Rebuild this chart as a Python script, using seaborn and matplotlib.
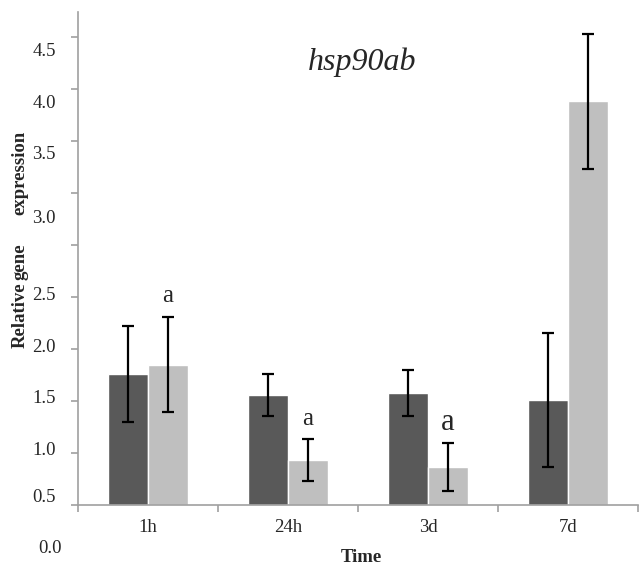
import matplotlib
matplotlib.use("Agg")
import matplotlib.pyplot as plt
import seaborn as sns
import pandas as pd

# ---- data ----
times = ["1h", "24h", "3d", "7d"]
groups = ["control", "treated"]
control_mean = [1.26, 1.06, 1.08, 1.01]
control_err = [0.46, 0.20, 0.22, 0.64]
treated_mean = [1.35, 0.43, 0.365, 3.88]
treated_err = [0.46, 0.20, 0.23, 0.65]
sig_letters = ["a", "a", "a", ""]

# tick labels as printed in the figure (labels sit offset from tick marks)
ytick_labels = ["4.5", "4.0", "3.5", "3.0", "2.5", "2.0", "1.5", "1.0", "0.5", "0.0"]
ytick_label_pos = [4.375, 3.875, 3.385, 2.77, 2.03, 1.53, 1.04, 0.54, 0.09, -0.42]
ytick_marks = [0, 0.5, 1.0, 1.5, 2.0, 2.5, 3.0, 3.5, 4.0, 4.5]

df = pd.DataFrame({
    "time": times * 2,
    "group": [groups[0]] * 4 + [groups[1]] * 4,
    "value": control_mean + treated_mean,
})

sns.set_style("white")
plt.rcParams["font.family"] = ["Liberation Serif", "DejaVu Serif"]

W, H = 640, 569
fig = plt.figure(figsize=(6.4, 5.69), dpi=100)
ax = fig.add_axes([78 / W, 64 / H, 560 / W, 493 / H])

dark = "#595959"
light = "#BFBFBF"
sns.barplot(data=df, x="time", y="value", hue="group", order=times,
            hue_order=groups, palette=[dark, light], width=0.565,
            errorbar=None, saturation=1, legend=False, ax=ax, zorder=2)

errs = [control_err, treated_err]
means = [control_mean, treated_mean]
for cont, m, e in zip(ax.containers, means, errs):
    xs = [p.get_x() + p.get_width() / 2 for p in cont.patches]
    ax.errorbar(xs, m, yerr=e, fmt="none", ecolor="black", elinewidth=1.6,
                capsize=4, capthick=1.6, zorder=3)

# significance letters above treated bars
for i, (p, letter) in enumerate(zip(ax.containers[1].patches, sig_letters)):
    if not letter:
        continue
    x = p.get_x() + p.get_width() / 2
    y = treated_mean[i] + treated_err[i] + 0.2
    ax.text(x, y, letter, ha="center", va="center",
            fontsize=22 if i == 2 else 18)

ax.set_xlim(-0.5, 3.5)
ax.set_ylim(0, 4.74)
sns.despine(ax=ax)
for s in ["left", "bottom"]:
    ax.spines[s].set_color("#A0A0A0")
    ax.spines[s].set_linewidth(1.2)

# x ticks: marks at category boundaries, labels at centres
ax.set_xticks([-0.5, 0.5, 1.5, 2.5, 3.5])
ax.set_xticklabels([])
ax.set_xticks(range(len(times)), minor=True)
ax.set_xticklabels(times, minor=True, fontsize=13.5)
ax.tick_params(axis="x", which="major", direction="out", length=5,
               width=1.2, color="#A0A0A0", bottom=True)
ax.tick_params(axis="x", which="minor", length=0, pad=10)

# y ticks: marks at true values, printed labels at their own positions
ax.set_yticks(ytick_marks, minor=True)
ax.set_yticklabels([""] * len(ytick_marks), minor=True)
ax.tick_params(axis="y", which="minor", direction="out", length=5,
               width=1.2, color="#A0A0A0", left=True)
ax.set_yticks(ytick_label_pos[:-1])
ax.set_yticklabels(ytick_labels[:-1], fontsize=13.5)
ax.tick_params(axis="y", which="major", length=0, pad=16)
ax.text(-16 / 560, ytick_label_pos[-1], ytick_labels[-1],
        transform=ax.get_yaxis_transform(), ha="right", va="center",
        fontsize=13.5, clip_on=False)

ax.set_xlabel("")
ax.set_ylabel("")

# axis titles
fig.text(361 / W, 1 - 557 / H, "Time", ha="center", va="center",
         fontsize=13.5, fontweight="bold")
for word, yy in [("Relative", 315), ("gene", 262), ("expression", 173)]:
    fig.text(20 / W, 1 - yy / H, word, rotation=90, ha="center",
             va="center", fontsize=13.5, fontweight="bold")

fig.text(362 / W, 1 - 62 / H, "hsp90ab", ha="center", va="center",
         fontsize=23, style="italic")

fig.savefig("out.png", dpi=100, facecolor="white")
